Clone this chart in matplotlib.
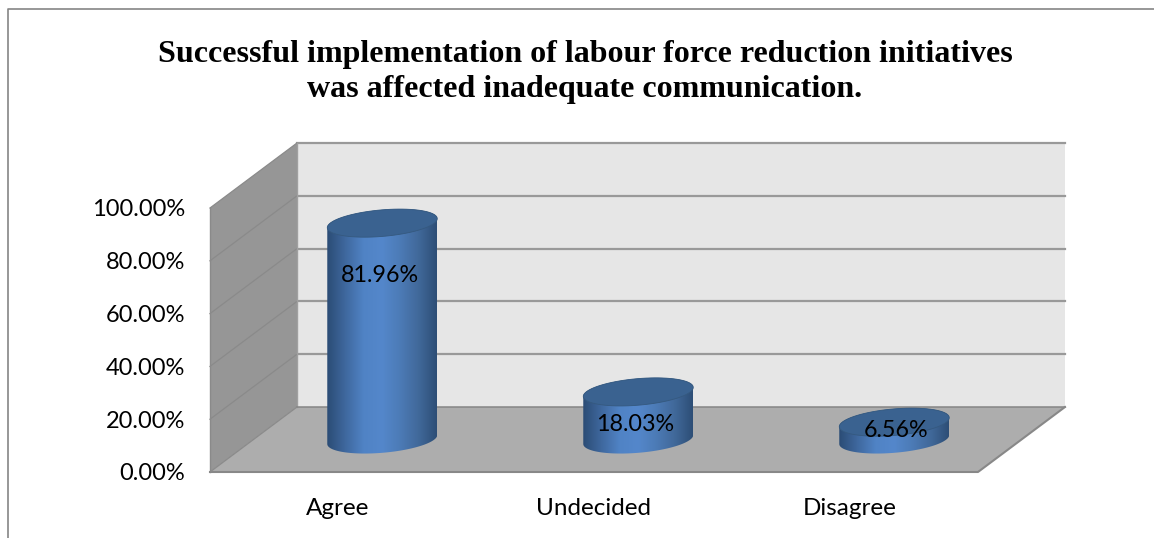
import matplotlib
matplotlib.use('Agg')
import matplotlib.pyplot as plt
import numpy as np
from matplotlib.colors import LinearSegmentedColormap
from matplotlib.lines import Line2D
from matplotlib.patches import Polygon

categories = ['Agree', 'Undecided', 'Disagree']
values = [81.96, 18.03, 6.56]
value_labels = ['81.96%', '18.03%', '6.56%']
y_ticks = [0, 20, 40, 60, 80, 100]
y_tick_labels = ['0.00%', '20.00%', '40.00%', '60.00%', '80.00%', '100.00%']
title_lines = ['Successful implementation of labour force reduction initiatives',
               'was affected inadequate communication.']

W, H = 1154, 538
# depth of the fake 3d box, in data units
DX = 87 / 768 * 3
DY = 65 / 264 * 100
# cylinder ellipse
A = 55 / 256
B = 13.3 / 2.64
K = 4.5 / 2.64
# where excel left the data labels, relative to the top of each cylinder
LABEL_DROP = [19, 11.6, 2.6]
LABEL_SHIFT = [-0.008, -0.012, 0.008]

body_cmap = LinearSegmentedColormap.from_list(
    'body', ['#2B4C75', '#3F689E', '#5083C5', '#5487CB', '#4C7BB6', '#41699A', '#2D4E76'])


def ellipse_points(cx, cy, start=0, stop=2 * np.pi):
    t = np.linspace(start, stop, 80)
    return np.column_stack([cx + A * np.cos(t), cy + B * np.sin(t) + K * np.cos(t)])


plt.rcParams['font.family'] = ['Lato', 'DejaVu Sans']
fig = plt.figure(figsize=(W / 100, H / 100), dpi=100)
ax = fig.add_axes([210 / W, 1 - 472 / H, 768 / W, 264 / H])
ax.set_xlim(0, 3)
ax.set_ylim(0, 100)
for s in ax.spines.values():
    s.set_visible(False)
ax.patch.set_visible(False)

# box
ax.add_patch(Polygon([(DX, DY), (3 + DX, DY), (3 + DX, 100 + DY), (DX, 100 + DY)],
                     fc='#E6E6E6', ec='none', clip_on=False, zorder=1))
ax.add_patch(Polygon([(0, 0), (DX, DY), (DX, 100 + DY), (0, 100)],
                     fc='#969696', ec='none', clip_on=False, zorder=1))
ax.add_patch(Polygon([(0, 0), (3, 0), (3 + DX, DY), (DX, DY)],
                     fc='#ADADAD', ec='none', clip_on=False, zorder=1))
for v in y_ticks[1:]:
    ax.plot([DX, 3 + DX], [v + DY, v + DY], color='#999999', lw=1.6, clip_on=False, zorder=2)
    ax.plot([0, DX], [v, v + DY], color='#8A8A8A', lw=0.9, clip_on=False, zorder=2)
ax.plot([DX, DX], [DY, 100 + DY], color='#A0A0A0', lw=1, clip_on=False, zorder=2)
ax.plot([0, 0], [0, 100], color='#8A8A8A', lw=1, clip_on=False, zorder=2)
ax.plot([DX, 3 + DX], [DY, DY], color='#858585', lw=1.1, clip_on=False, zorder=2)
ax.plot([0, 3, 3 + DX], [0, 0, DY], color='#888888', lw=1.5, clip_on=False, zorder=2)
ax.plot([0, DX], [0, DY], color='#8A8A8A', lw=0.9, clip_on=False, zorder=2)

# cylinders
for i, v in enumerate(values):
    cx = i + 0.5 + DX / 2 + 0.003
    y0 = DY / 2
    y1 = v + DY / 2
    top = ellipse_points(cx, y1, 0, np.pi)
    bottom = ellipse_points(cx, y0, np.pi, 2 * np.pi)
    outline = Polygon(np.vstack([top, bottom]), transform=ax.transData, fc='none', ec='none')
    ax.add_patch(outline)
    outline.set_clip_on(False)
    img = ax.imshow(np.linspace(0, 1, 256).reshape(1, -1), cmap=body_cmap, aspect='auto',
                    extent=(cx - A, cx + A, y0 - 10, y1 + 10), zorder=3)
    img.set_clip_path(outline)
    ax.add_patch(Polygon(ellipse_points(cx, y1), fc='#3A6290', ec='#35597F', lw=0.6,
                         clip_on=False, zorder=4))
    ax.text(cx + LABEL_SHIFT[i], y1 - LABEL_DROP[i] - 0.7, value_labels[i], ha='center', va='center',
            fontsize=16.8, color='black', zorder=5)

ax.set_xlim(0, 3)
ax.set_ylim(0, 100)
ax.set_yticks(y_ticks)
ax.set_yticklabels(y_tick_labels, fontsize=17, color='black')
ax.set_xticks([i + 0.5 for i in range(len(categories))])
ax.set_xticklabels(categories, fontsize=17.5, color='black')
ax.tick_params(axis='both', length=0)
ax.tick_params(axis='y', pad=18)
ax.tick_params(axis='x', pad=19)

# title and chart frame
for line, y in zip(title_lines, [55, 89]):
    fig.text(585 / W, 1 - y / H, line, ha='center', va='center', fontsize=23,
             fontweight='bold', family='Liberation Serif', color='black')
fig.add_artist(Line2D([8 / W, 8 / W, 1], [0, 1 - 8.5 / H, 1 - 8.5 / H],
                      transform=fig.transFigure, color='#858585', lw=1.2))

fig.savefig('out.png', dpi=100)
